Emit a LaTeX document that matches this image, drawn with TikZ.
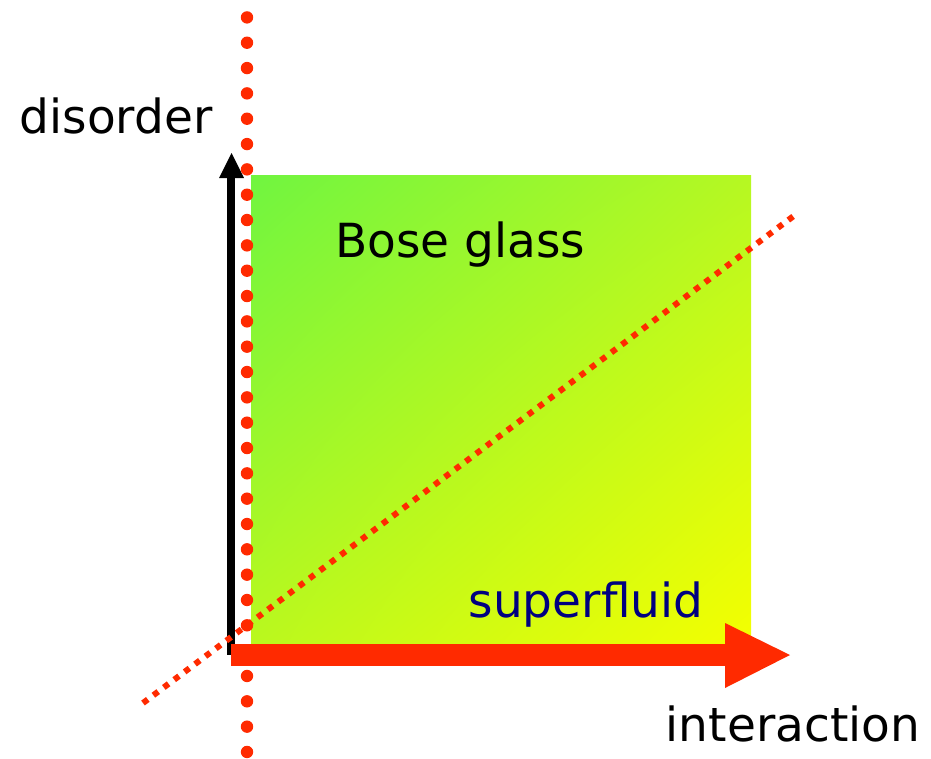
\documentclass[tikz,border=0pt]{standalone}
\usepackage{fontspec}
\setmainfont{DejaVu Sans}
\usetikzlibrary{shadings}
\definecolor{dotred}{RGB}{255,42,0}
\definecolor{ulc}{RGB}{112,245,64}
\definecolor{urc}{RGB}{182,248,34}
\definecolor{llc}{RGB}{186,248,30}
\definecolor{lrc}{RGB}{244,255,0}
\definecolor{sfblue}{RGB}{0,0,128}
\tikzset{
  lbl/.style={inner sep=0pt, font=\fontsize{47}{50}\selectfont},
}
\begin{document}
\begin{tikzpicture}[x=1pt,y=-1pt]
\useasboundingbox (0,0) rectangle (931,758);
% gradient square
\shade[upper left=ulc, upper right=urc, lower left=llc, lower right=lrc] (251,175) rectangle (751,645);
% black vertical arrow
\fill[black] (227,655) rectangle (235,175);
\fill[black] (219,178) -- (231.5,153) -- (244,178) -- cycle;
% vertical dotted line
\foreach \i in {0,...,29} {
  \fill[dotred] (247,{17.4+25.33*\i}) circle (6.2);
}
% diagonal dotted line
\coordinate (d1) at (143,703);
\coordinate (d2) at (795,215);
\draw[dotred, line width=6, dash pattern=on 6 off 7] (d1) -- (d2);
% red horizontal arrow
\fill[dotred] (231,644) rectangle (726,666);
\fill[dotred] (725,623) -- (790,655) -- (725,688) -- cycle;
% labels
\node[lbl, anchor=center] (dis) at (116,116) {disorder};
\node[lbl, anchor=center] (int) at (793,724) {interaction};
\node[lbl, anchor=center] (bg) at (460,245) {Bose glass};
\node[lbl, text=sfblue, anchor=center] (sf) at (586,605) {superfluid};
\end{tikzpicture}
\end{document}
